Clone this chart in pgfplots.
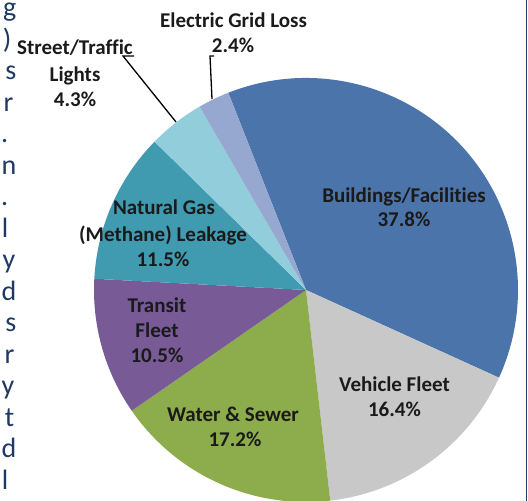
\documentclass[border=0pt]{standalone}
\usepackage{fontspec}
\setmainfont{Carlito}[Ligatures=NoCommon]
\usepackage{pgfplots}
\usepackage{pgfplotstable}
\pgfplotsset{compat=1.18}

\definecolor{col0}{HTML}{4A74AA}
\definecolor{col1}{HTML}{C8C8C8}
\definecolor{col2}{HTML}{8DAC4B}
\definecolor{col3}{HTML}{785A96}
\definecolor{col4}{HTML}{409BB1}
\definecolor{col5}{HTML}{92CDDC}
\definecolor{col6}{HTML}{96A7D0}
\definecolor{navy}{HTML}{1F3864}
\definecolor{lbl}{HTML}{1A1A1A}

\pgfplotstableread{
name value
Buildings 37.8
Vehicle 16.4
Water 17.2
Transit 10.5
Gas 11.5
Street 4.3
Grid 2.4
}\piedata

\newcommand{\lab}[3]{\node[anchor=base, inner sep=0pt, text=lbl, font=\bfseries\fontsize{21}{25}\selectfont] at (axis cs:#1,#2) {#3};}
\newcommand{\edge}[3]{\node[anchor=base east, inner sep=0pt, text=navy, font=\fontsize{28}{32}\selectfont] at (axis cs:#1,#2) {#3};}

\begin{document}
\begin{tikzpicture}
\begin{scope}
\clip (0,0) rectangle (528pt,501pt);
\begin{axis}[at={(0,0)}, anchor=south west, x=1pt, y=1pt,
  xmin=0, xmax=528, ymin=0, ymax=501, hide axis, clip=false]
  % total of the values
  \def\total{0}
  \pgfplotsforeachungrouped \i in {0,...,6} {
    \pgfplotstablegetelem{\i}{value}\of\piedata
    \pgfmathsetmacro\total{\total+\pgfplotsretval}
    \global\let\total\total
  }
  \def\cumangle{111.5}
  \pgfplotsforeachungrouped \i in {0,...,6} {
    \pgfplotstablegetelem{\i}{value}\of\piedata
    \pgfmathsetmacro\endangle{\cumangle - 360*\pgfplotsretval/\total}
    \edef\temp{\noexpand\fill[col\i] (axis cs:306,211) -- ++(\cumangle:212pt) arc[start angle=\cumangle, end angle=\endangle, radius=212pt] -- cycle;}
    \temp
    \global\let\cumangle\endangle
  }
  % leader lines
  \draw[line width=1.3pt, black] (axis cs:134,445) -- (axis cs:123,445) -- (axis cs:176,379);
  \draw[line width=1.3pt, black] (axis cs:214,445) -- (axis cs:210,445) -- (axis cs:212,402);
  % labels
  \lab{233.5}{473}{Electric Grid Loss}
  \lab{233}{448}{2.4\%}
  \lab{75}{446}{Street/Traffic}
  \lab{75}{419}{Lights}
  \lab{75}{394}{4.3\%}
  \lab{164}{286}{Natural Gas}
  \lab{163}{259}{(Methane) Leakage}
  \lab{163}{234}{11.5\%}
  \lab{157}{188}{Transit}
  \lab{157}{163}{Fleet}
  \lab{157}{138}{10.5\%}
  \lab{233}{79}{Water \& Sewer}
  \lab{235}{54}{17.2\%}
  \lab{394.5}{109}{Vehicle Fleet}
  \lab{394.5}{84}{16.4\%}
  \lab{404}{298}{Buildings/Facilities}
  \lab{404}{274}{37.8\%}
  % cut-off text at the left edge
  \edge{16.5}{484}{g}
  \edge{11.5}{452.5}{)}
  \edge{16.5}{421}{s}
  \edge{13.5}{389.5}{r}
  \edge{8.5}{358}{.}
  \edge{16.5}{326.5}{n}
  \edge{8.5}{295}{.}
  \edge{8.5}{263.5}{l}
  \edge{15.5}{232}{y}
  \edge{16.5}{200.5}{d}
  \edge{16.5}{169}{s}
  \edge{14.5}{137.5}{r}
  \edge{14.5}{106}{y}
  \edge{14.5}{74.5}{t}
  \edge{16.5}{43}{d}
  \edge{8.5}{11.5}{l}
  % frame line at the right
  \draw[navy, line width=1.6pt] (axis cs:526.5,0) -- (axis cs:526.5,501);
\end{axis}
\end{scope}
\pgfresetboundingbox
\useasboundingbox (0,0) rectangle (528pt,501pt);
\end{tikzpicture}
\end{document}
